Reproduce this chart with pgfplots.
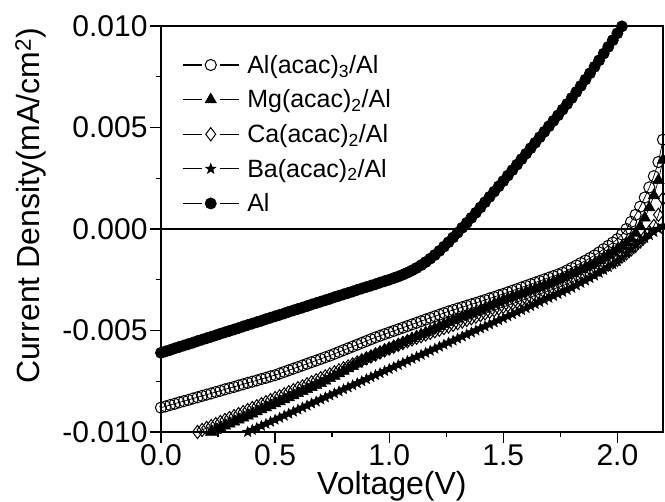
\documentclass[border=0pt]{standalone}
\usepackage{fontspec}
\setmainfont{Liberation Sans}
\usepackage{pgfplots}
\usepackage{pgfplotstable}
\pgfplotsset{compat=1.18}

\pgfdeclareplotmark{fstar}{%
  \pgfpathmoveto{\pgfpointpolar{90}{\pgfplotmarksize}}%
  \pgfpathlineto{\pgfpointpolar{126}{0.42\pgfplotmarksize}}%
  \pgfpathlineto{\pgfpointpolar{162}{\pgfplotmarksize}}%
  \pgfpathlineto{\pgfpointpolar{198}{0.42\pgfplotmarksize}}%
  \pgfpathlineto{\pgfpointpolar{234}{\pgfplotmarksize}}%
  \pgfpathlineto{\pgfpointpolar{270}{0.42\pgfplotmarksize}}%
  \pgfpathlineto{\pgfpointpolar{306}{\pgfplotmarksize}}%
  \pgfpathlineto{\pgfpointpolar{342}{0.42\pgfplotmarksize}}%
  \pgfpathlineto{\pgfpointpolar{18}{\pgfplotmarksize}}%
  \pgfpathlineto{\pgfpointpolar{54}{0.42\pgfplotmarksize}}%
  \pgfpathclose
  \pgfusepathqfillstroke}

\pgfplotstableread{
V A B C D E
0.00 -0.00610 -0.00880 nan nan nan
0.02 -0.00603 -0.00874 nan nan nan
0.04 -0.00596 -0.00867 nan nan nan
0.06 -0.00588 -0.00861 nan nan nan
0.08 -0.00581 -0.00854 nan nan nan
0.10 -0.00574 -0.00848 nan nan nan
0.12 -0.00567 -0.00842 nan -0.01020 nan
0.14 -0.00560 -0.00835 nan -0.01010 nan
0.16 -0.00552 -0.00829 nan -0.01000 nan
0.18 -0.00545 -0.00822 -0.01020 -0.00990 nan
0.20 -0.00538 -0.00816 -0.01010 -0.00980 nan
0.22 -0.00531 -0.00810 -0.01000 -0.00971 nan
0.24 -0.00524 -0.00803 -0.00990 -0.00961 nan
0.26 -0.00516 -0.00797 -0.00980 -0.00951 nan
0.28 -0.00509 -0.00790 -0.00970 -0.00941 nan
0.30 -0.00502 -0.00784 -0.00960 -0.00931 -0.01040
0.32 -0.00495 -0.00778 -0.00950 -0.00922 -0.01030
0.34 -0.00488 -0.00771 -0.00940 -0.00912 -0.01020
0.36 -0.00480 -0.00765 -0.00930 -0.00902 -0.01010
0.38 -0.00473 -0.00758 -0.00920 -0.00892 -0.01000
0.40 -0.00466 -0.00752 -0.00910 -0.00882 -0.00990
0.42 -0.00459 -0.00746 -0.00900 -0.00873 -0.00980
0.44 -0.00452 -0.00739 -0.00890 -0.00863 -0.00970
0.46 -0.00444 -0.00733 -0.00880 -0.00853 -0.00960
0.48 -0.00437 -0.00726 -0.00870 -0.00843 -0.00950
0.50 -0.00430 -0.00720 -0.00860 -0.00833 -0.00940
0.52 -0.00423 -0.00712 -0.00850 -0.00824 -0.00930
0.54 -0.00416 -0.00704 -0.00840 -0.00814 -0.00920
0.56 -0.00408 -0.00696 -0.00830 -0.00804 -0.00910
0.58 -0.00401 -0.00688 -0.00820 -0.00794 -0.00900
0.60 -0.00394 -0.00680 -0.00810 -0.00784 -0.00890
0.62 -0.00387 -0.00672 -0.00800 -0.00775 -0.00880
0.64 -0.00380 -0.00664 -0.00790 -0.00765 -0.00870
0.66 -0.00372 -0.00656 -0.00780 -0.00755 -0.00860
0.68 -0.00365 -0.00648 -0.00770 -0.00745 -0.00850
0.70 -0.00358 -0.00640 -0.00760 -0.00735 -0.00840
0.72 -0.00351 -0.00632 -0.00748 -0.00726 -0.00830
0.74 -0.00344 -0.00624 -0.00736 -0.00716 -0.00820
0.76 -0.00336 -0.00615 -0.00724 -0.00706 -0.00810
0.78 -0.00329 -0.00606 -0.00712 -0.00696 -0.00800
0.80 -0.00322 -0.00597 -0.00700 -0.00686 -0.00790
0.82 -0.00315 -0.00588 -0.00688 -0.00677 -0.00780
0.84 -0.00308 -0.00579 -0.00676 -0.00667 -0.00770
0.86 -0.00300 -0.00570 -0.00664 -0.00657 -0.00760
0.88 -0.00293 -0.00561 -0.00652 -0.00647 -0.00750
0.90 -0.00286 -0.00552 -0.00640 -0.00637 -0.00740
0.92 -0.00279 -0.00543 -0.00630 -0.00628 -0.00730
0.94 -0.00272 -0.00534 -0.00620 -0.00618 -0.00720
0.96 -0.00264 -0.00526 -0.00610 -0.00608 -0.00710
0.98 -0.00257 -0.00518 -0.00600 -0.00598 -0.00700
1.00 -0.00250 -0.00510 -0.00590 -0.00589 -0.00690
1.02 -0.00242 -0.00502 -0.00580 -0.00580 -0.00680
1.04 -0.00234 -0.00494 -0.00570 -0.00571 -0.00670
1.06 -0.00225 -0.00486 -0.00560 -0.00562 -0.00660
1.08 -0.00215 -0.00478 -0.00550 -0.00553 -0.00650
1.10 -0.00204 -0.00470 -0.00540 -0.00544 -0.00640
1.12 -0.00192 -0.00462 -0.00530 -0.00536 -0.00630
1.14 -0.00178 -0.00454 -0.00520 -0.00528 -0.00620
1.16 -0.00163 -0.00446 -0.00510 -0.00520 -0.00610
1.18 -0.00146 -0.00438 -0.00500 -0.00512 -0.00600
1.20 -0.00128 -0.00430 -0.00490 -0.00504 -0.00590
1.22 -0.00108 -0.00422 -0.00480 -0.00496 -0.00580
1.24 -0.00087 -0.00414 -0.00470 -0.00488 -0.00570
1.26 -0.00065 -0.00406 -0.00460 -0.00480 -0.00560
1.28 -0.00042 -0.00399 -0.00450 -0.00472 -0.00550
1.30 -0.00018 -0.00392 -0.00440 -0.00464 -0.00540
1.32 0.00006 -0.00385 -0.00432 -0.00456 -0.00530
1.34 0.00030 -0.00378 -0.00424 -0.00448 -0.00520
1.36 0.00055 -0.00371 -0.00416 -0.00440 -0.00510
1.38 0.00080 -0.00364 -0.00408 -0.00432 -0.00500
1.40 0.00106 -0.00357 -0.00400 -0.00424 -0.00490
1.42 0.00132 -0.00350 -0.00390 -0.00416 -0.00480
1.44 0.00158 -0.00342 -0.00380 -0.00408 -0.00470
1.46 0.00184 -0.00335 -0.00370 -0.00400 -0.00460
1.48 0.00210 -0.00327 -0.00360 -0.00392 -0.00450
1.50 0.00236 -0.00320 -0.00350 -0.00384 -0.00440
1.52 0.00263 -0.00312 -0.00342 -0.00376 -0.00430
1.54 0.00290 -0.00304 -0.00334 -0.00368 -0.00420
1.56 0.00317 -0.00296 -0.00326 -0.00360 -0.00410
1.58 0.00344 -0.00288 -0.00318 -0.00352 -0.00400
1.60 0.00371 -0.00280 -0.00310 -0.00344 -0.00390
1.62 0.00398 -0.00272 -0.00302 -0.00336 -0.00380
1.64 0.00425 -0.00264 -0.00294 -0.00328 -0.00370
1.66 0.00452 -0.00256 -0.00286 -0.00320 -0.00360
1.68 0.00479 -0.00248 -0.00278 -0.00312 -0.00350
1.70 0.00506 -0.00240 -0.00270 -0.00304 -0.00340
1.72 0.00533 -0.00232 -0.00260 -0.00296 -0.00330
1.74 0.00560 -0.00224 -0.00250 -0.00288 -0.00320
1.76 0.00588 -0.00215 -0.00240 -0.00279 -0.00310
1.78 0.00616 -0.00204 -0.00230 -0.00270 -0.00300
1.80 0.00645 -0.00192 -0.00220 -0.00261 -0.00290
1.82 0.00675 -0.00180 -0.00210 -0.00252 -0.00278
1.84 0.00705 -0.00168 -0.00200 -0.00242 -0.00266
1.86 0.00736 -0.00156 -0.00190 -0.00232 -0.00254
1.88 0.00767 -0.00143 -0.00180 -0.00222 -0.00242
1.90 0.00799 -0.00130 -0.00170 -0.00211 -0.00230
1.92 0.00831 -0.00115 -0.00156 -0.00200 -0.00216
1.94 0.00864 -0.00099 -0.00142 -0.00188 -0.00202
1.96 0.00897 -0.00083 -0.00128 -0.00176 -0.00188
1.98 0.00930 -0.00067 -0.00114 -0.00164 -0.00174
2.00 0.00964 -0.00050 -0.00100 -0.00152 -0.00160
2.02 0.00998 -0.00027 -0.00085 -0.00136 -0.00140
2.04 0.01032 0.00000 -0.00068 -0.00120 -0.00120
2.06 nan 0.00035 -0.00048 -0.00102 -0.00100
2.08 nan 0.00070 -0.00020 -0.00083 -0.00080
2.10 nan 0.00110 0.00012 -0.00062 -0.00060
2.12 nan 0.00155 0.00055 -0.00040 -0.00045
2.14 nan 0.00205 0.00105 -0.00015 -0.00030
2.16 nan 0.00260 0.00165 0.00015 -0.00015
2.18 nan 0.00330 0.00240 0.00070 0.00000
2.20 nan 0.00440 0.00340 0.00150 0.00015
}\jvdata

\begin{document}
\begin{tikzpicture}
\begin{axis}[
  at={(0pt,0pt)}, anchor=south west,
  scale only axis, width=502pt, height=406pt,
  xmin=0, xmax=2.2, ymin=-0.01, ymax=0.01,
  xtick={0,0.5,1,1.5,2}, xticklabels={0.0,0.5,1.0,1.5,2.0},
  ytick={-0.01,-0.005,0,0.005,0.01},
  yticklabels={-0.010,-0.005,0.000,0.005,0.010},
  minor x tick num=1, minor y tick num=1,
  scaled y ticks=false,
  xtick pos=left, ytick pos=left,
  tick align=outside,
  major tick length=11pt, minor tick length=5pt,
  every tick/.style={black, line width=1.3pt},
  axis line style={line width=1.6pt},
  tick label style={font=\fontsize{30}{36}\selectfont},
  xticklabel style={anchor=north, yshift=2pt},
  yticklabel style={anchor=east, xshift=1pt},
  xlabel={Voltage(V)},
  ylabel={Current Density(mA/cm\textsuperscript{2})},
  label style={font=\fontsize{32}{38}\selectfont},
  xlabel style={at={(axis description cs:0.46,-0.133)}, anchor=center},
  ylabel style={at={(axis description cs:-0.259,0.557)}, anchor=center},
  legend cell align=left,
  legend style={at={(axis description cs:0,1)}, anchor=north west,
    xshift=21pt, yshift=-27pt, draw=none, fill=none,
    font=\fontsize{25}{30}\selectfont, row sep=11pt, inner sep=0pt,
    /tikz/every odd column/.style={column sep=6pt}},
  legend image code/.code={%
    \draw[#1, mark=none, line width=1.1pt] (0pt,0pt)--(19pt,0pt) (37pt,0pt)--(56pt,0pt);
    \draw[#1, only marks] plot coordinates {(28pt,0pt)};},
  every axis plot/.append style={line width=0.7pt},
]
\addplot[black, line width=2.6pt, forget plot] coordinates {(0,0) (2.2,0)};
\addplot[black, mark=o, mark size=5.6pt, mark options={fill=white, line width=1pt}]
  table[x=V, y=B] {\jvdata};
\addlegendentry{Al(acac)\textsubscript{3}/Al}
\addplot[black, mark=triangle*, mark size=6.6pt, mark options={fill=black, line width=0.5pt}]
  table[x=V, y=C] {\jvdata};
\addlegendentry{Mg(acac)\textsubscript{2}/Al}
\addplot[black, mark=diamond, mark size=6.6pt, mark options={fill=white, line width=1pt}]
  table[x=V, y=D] {\jvdata};
\addlegendentry{Ca(acac)\textsubscript{2}/Al}
\addplot[black, mark=fstar, mark size=5.6pt, mark options={fill=black, line width=0.4pt}]
  table[x=V, y=E] {\jvdata};
\addlegendentry{Ba(acac)\textsubscript{2}/Al}
\addplot[black, mark=*, mark size=5.6pt, mark options={fill=black}]
  table[x=V, y=A] {\jvdata};
\addlegendentry{Al}
\end{axis}
\pgfresetboundingbox
\path[use as bounding box] (-161pt,-70pt) rectangle (504pt,432pt);
\end{tikzpicture}
\end{document}
